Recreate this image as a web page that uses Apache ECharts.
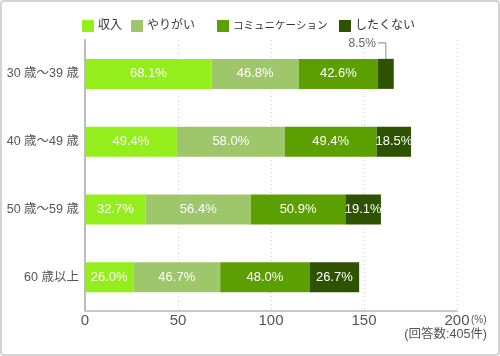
<!DOCTYPE html>
<html><head><meta charset="utf-8">
<script src="https://cdn.jsdelivr.net/npm/echarts@6/dist/echarts.min.js"></script>
<style>
html,body{margin:0;padding:0;background:#fff;}
#wrap{position:relative;width:500px;height:356px;}
#c{position:absolute;left:0;top:0;width:500px;height:356px;}
#frame{position:absolute;left:0;top:0;width:500px;height:356px;box-sizing:border-box;border:2px solid #d4d4d4;border-radius:4px;pointer-events:none;}
</style></head><body>
<div id="wrap"><div id="c"></div><div id="frame"></div></div>
<script>
const categories = ['30 歳〜39 歳', '40 歳〜49 歳', '50 歳〜59 歳', '60 歳以上'];
const seriesNames = ['収入', 'やりがい', 'コミュニケーション', 'したくない'];
const income = [68.1, 49.4, 32.7, 26.0];
const rewarding = [46.8, 58.0, 56.4, 46.7];
const communication = [42.6, 49.4, 50.9, 48.0];
const notWant = [8.5, 18.5, 19.1, 26.7];
const xTicks = [0, 50, 100, 150, 200];
const colors = ['#94ee1c', '#9ec66a', '#5c9f00', '#2d5300'];

const chart = echarts.init(document.getElementById('c'), null, {renderer: 'canvas'});
const font = '"Liberation Sans", Arial, "Noto Sans CJK JP", sans-serif';
const allData = [income, rewarding, communication, notWant];
const legendLeft = [82, 131, 217, 339];
const legendFontSize = [12, 12, 10.5, 12];

function mkSeries(i) {
  return {
    name: seriesNames[i], type: 'bar', stack: 'total', barWidth: 30,
    itemStyle: {color: colors[i]},
    data: allData[i].map((v, j) => {
      const d = {value: v};
      if (i === 3 && j === 0) d.label = {show: false};
      return d;
    }),
    label: {show: true, position: 'inside', color: '#fff', fontSize: 13, fontFamily: font,
      formatter: p => p.value.toFixed(1) + '%'},
    emphasis: {disabled: true}, animation: false
  };
}

chart.setOption({
  animation: false,
  textStyle: {fontFamily: font},
  legend: seriesNames.map((n, i) => ({
    top: 20, left: legendLeft[i], padding: 0, itemWidth: 12, itemHeight: 12,
    icon: 'rect', data: [n], selectedMode: false,
    textStyle: {fontSize: legendFontSize[i], color: '#333', padding: [0, 0, 0, -1]}
  })),
  grid: {left: 85, right: 43, top: 40, bottom: 45},
  xAxis: {
    type: 'value', min: xTicks[0], max: xTicks[xTicks.length - 1], interval: 50,
    axisLine: {show: true, lineStyle: {color: '#c8c8c8', width: 2}},
    axisTick: {show: false},
    axisLabel: {fontSize: 15, color: '#555', margin: 2},
    splitLine: {show: true, lineStyle: {color: '#d0d0d0', type: [1, 3]}}
  },
  yAxis: {
    type: 'category', data: categories, inverse: true,
    axisLine: {show: true, lineStyle: {color: '#bbb', width: 2}},
    axisTick: {show: false},
    axisLabel: {fontSize: 12.5, color: '#555', margin: 6}
  },
  series: [0, 1, 2, 3].map(mkSeries)
});

// leader line annotation for the small 8.5% segment, computed from data
const start = income[0] + rewarding[0] + communication[0];
const mid = start + notWant[0] / 2;
const p = chart.convertToPixel({gridIndex: 0}, [mid, categories[0]]);
const topY = p[1] - 31;
chart.setOption({
  graphic: [
    {type: 'polyline', shape: {points: [[p[0] - 8, topY], [p[0], topY], [p[0], p[1]]]},
      style: {stroke: '#888', lineWidth: 1, fill: null}, silent: true},
    {type: 'text', x: p[0] - 10, y: topY + 1, style: {text: notWant[0].toFixed(1) + '%', fill: '#666',
      font: '12px ' + font, textAlign: 'right', textVerticalAlign: 'middle'}},
    {type: 'text', left: 471, top: 315, style: {text: '(%)', fill: '#555', font: '10px ' + font}},
    {type: 'text', right: 13, top: 328, style: {text: '(回答数:405件)', fill: '#555', font: '12.5px ' + font}}
  ]
});
</script>
</body></html>
